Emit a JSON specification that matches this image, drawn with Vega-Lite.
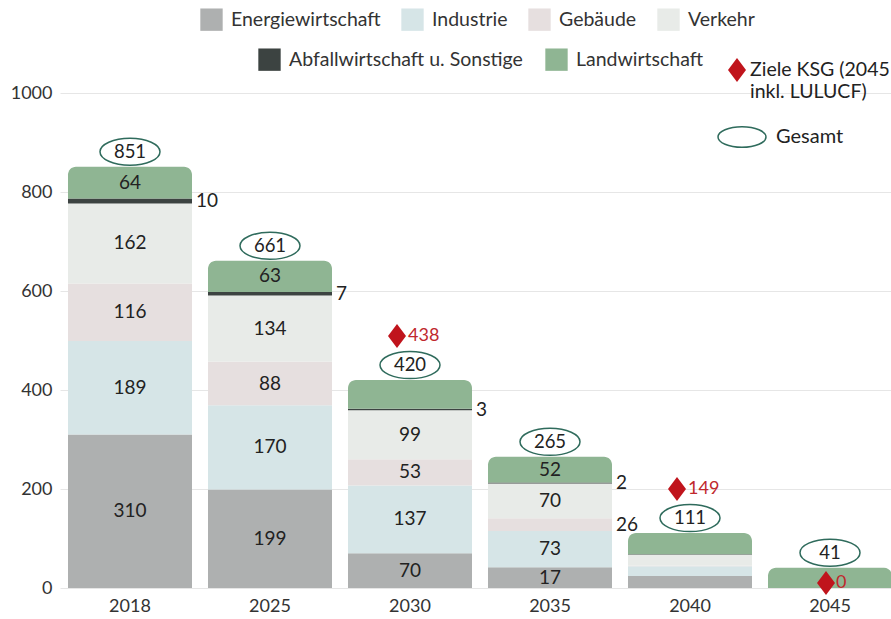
{
  "$schema": "https://vega.github.io/schema/vega-lite/v6.json",
  "width": 831,
  "height": 495,
  "autosize": {"type": "none"},
  "padding": {"left": 60, "top": 93, "right": 0, "bottom": 31},
  "background": "white",
  "config": {"view": {"stroke": null}, "font": "Lato"},
  "datasets": {
    "seg": [
      {"year": "2018", "category": "Energiewirtschaft", "order": 1, "value": 310, "label": "310", "pos": "in"},
      {"year": "2018", "category": "Industrie", "order": 2, "value": 189, "label": "189", "pos": "in"},
      {"year": "2018", "category": "Gebäude", "order": 3, "value": 116, "label": "116", "pos": "in"},
      {"year": "2018", "category": "Verkehr", "order": 4, "value": 162, "label": "162", "pos": "in"},
      {"year": "2018", "category": "Abfallwirtschaft u. Sonstige", "order": 5, "value": 10, "label": "10", "pos": "out"},
      {"year": "2018", "category": "Landwirtschaft", "order": 6, "value": 64, "label": "64", "pos": "in"},
      {"year": "2025", "category": "Energiewirtschaft", "order": 1, "value": 199, "label": "199", "pos": "in"},
      {"year": "2025", "category": "Industrie", "order": 2, "value": 170, "label": "170", "pos": "in"},
      {"year": "2025", "category": "Gebäude", "order": 3, "value": 88, "label": "88", "pos": "in"},
      {"year": "2025", "category": "Verkehr", "order": 4, "value": 134, "label": "134", "pos": "in"},
      {"year": "2025", "category": "Abfallwirtschaft u. Sonstige", "order": 5, "value": 7, "label": "7", "pos": "out"},
      {"year": "2025", "category": "Landwirtschaft", "order": 6, "value": 63, "label": "63", "pos": "in"},
      {"year": "2030", "category": "Energiewirtschaft", "order": 1, "value": 70, "label": "70", "pos": "in"},
      {"year": "2030", "category": "Industrie", "order": 2, "value": 137, "label": "137", "pos": "in"},
      {"year": "2030", "category": "Gebäude", "order": 3, "value": 53, "label": "53", "pos": "in"},
      {"year": "2030", "category": "Verkehr", "order": 4, "value": 99, "label": "99", "pos": "in"},
      {"year": "2030", "category": "Abfallwirtschaft u. Sonstige", "order": 5, "value": 3, "label": "3", "pos": "out"},
      {"year": "2030", "category": "Landwirtschaft", "order": 6, "value": 58, "label": "58", "pos": "none"},
      {"year": "2035", "category": "Energiewirtschaft", "order": 1, "value": 42, "label": "17", "pos": "in"},
      {"year": "2035", "category": "Industrie", "order": 2, "value": 73, "label": "73", "pos": "in"},
      {"year": "2035", "category": "Gebäude", "order": 3, "value": 26, "label": "26", "pos": "out"},
      {"year": "2035", "category": "Verkehr", "order": 4, "value": 70, "label": "70", "pos": "in"},
      {"year": "2035", "category": "Abfallwirtschaft u. Sonstige", "order": 5, "value": 2, "label": "2", "pos": "out"},
      {"year": "2035", "category": "Landwirtschaft", "order": 6, "value": 52, "label": "52", "pos": "in"},
      {"year": "2040", "category": "Energiewirtschaft", "order": 1, "value": 24, "label": "24", "pos": "none"},
      {"year": "2040", "category": "Industrie", "order": 2, "value": 20, "label": "20", "pos": "none"},
      {"year": "2040", "category": "Gebäude", "order": 3, "value": 1, "label": "1", "pos": "none"},
      {"year": "2040", "category": "Verkehr", "order": 4, "value": 22, "label": "22", "pos": "none"},
      {"year": "2040", "category": "Abfallwirtschaft u. Sonstige", "order": 5, "value": 1, "label": "1", "pos": "none"},
      {"year": "2040", "category": "Landwirtschaft", "order": 6, "value": 43, "label": "43", "pos": "none"},
      {"year": "2045", "category": "Landwirtschaft", "order": 6, "value": 41, "label": "41", "pos": "none"}
    ],
    "tot": [
      {"year": "2018", "total": 851, "target": null},
      {"year": "2025", "total": 661, "target": null},
      {"year": "2030", "total": 420, "target": 438},
      {"year": "2035", "total": 265, "target": null},
      {"year": "2040", "total": 111, "target": 149},
      {"year": "2045", "total": 41, "target": 0}
    ]
  },
  "layer": [
    {
      "data": {"name": "seg"},
      "transform": [
        {"stack": "value", "groupby": ["year"], "sort": [{"field": "order", "order": "ascending"}], "as": ["y0", "y1"]},
        {"calculate": "(datum.y0 + datum.y1) / 2", "as": "mid"}
      ],
      "encoding": {
        "x": {
          "field": "year", "type": "nominal",
          "scale": {"range": [0, 840], "paddingInner": 0.1143, "paddingOuter": 0.0571},
          "axis": {"title": null, "domain": false, "ticks": false, "labelAngle": 0, "labelFontSize": 18, "labelColor": "#333", "labelPadding": 9, "labelFont": "Lato"}
        }
      },
      "layer": [
        {
          "transform": [{"filter": "datum.order <= 4"}],
          "mark": {"type": "bar"},
          "encoding": {
            "y": {"field": "y1", "type": "quantitative", "scale": {"domain": [0, 1000]},
              "axis": {"title": null, "values": [0, 200, 400, 600, 800, 1000], "format": "d", "domain": false, "ticks": false, "labelFontSize": 18, "labelColor": "#333", "labelPadding": 8, "gridColor": "#e6e6e6", "labelFont": "Lato"}},
            "y2": {"field": "y0"},
            "color": {
              "field": "category", "type": "nominal",
              "scale": {"domain": ["Energiewirtschaft", "Industrie", "Gebäude", "Verkehr"], "range": ["#aeb0b0", "#d6e5e7", "#e6dfdf", "#e8ebe8"]},
              "legend": {"orient": "none", "legendX": 140, "legendY": -85, "direction": "horizontal", "columns": 4, "title": null, "symbolType": "square", "symbolSize": 500, "symbolStrokeWidth": 0, "labelFontSize": 19.5, "labelFont": "Lato", "labelColor": "#333", "labelOffset": 8, "columnPadding": 20, "labelLimit": 300, "padding": 0}
            }
          }
        },
        {
          "transform": [{"filter": "datum.order == 5"}],
          "mark": {"type": "bar"},
          "encoding": {
            "y": {"field": "y1", "type": "quantitative"},
            "y2": {"field": "y0"},
            "fill": {
              "field": "category", "type": "nominal",
              "scale": {"domain": ["Abfallwirtschaft u. Sonstige", "Landwirtschaft"], "range": ["#3c4341", "#8fb593"]},
              "legend": {"orient": "none", "legendX": 198, "legendY": -45, "direction": "horizontal", "columns": 2, "title": null, "symbolType": "square", "symbolSize": 500, "symbolStrokeWidth": 0, "labelFontSize": 19.5, "labelFont": "Lato", "labelColor": "#333", "labelOffset": 8, "columnPadding": 22, "labelLimit": 300, "padding": 0}
            }
          }
        },
        {
          "transform": [{"filter": "datum.order == 6"}],
          "mark": {"type": "bar", "cornerRadiusTopLeft": 8, "cornerRadiusTopRight": 8},
          "encoding": {
            "y": {"field": "y1", "type": "quantitative"},
            "y2": {"field": "y0"},
            "fill": {"field": "category", "type": "nominal"}
          }
        },
        {
          "transform": [{"filter": "datum.pos == 'in'"}],
          "mark": {"type": "text", "fontSize": 19, "color": "#222", "font": "Lato"},
          "encoding": {
            "y": {"field": "mid", "type": "quantitative"},
            "text": {"field": "label"}
          }
        },
        {
          "transform": [{"filter": "datum.pos == 'out'"}],
          "mark": {"type": "text", "fontSize": 19, "color": "#222", "align": "left", "dx": 4, "font": "Lato"},
          "encoding": {
            "x": {"field": "year", "type": "nominal", "bandPosition": 1},
            "y": {"field": "mid", "type": "quantitative"},
            "text": {"field": "label"}
          }
        }
      ]
    },
    {
      "data": {"name": "tot"},
      "encoding": {"x": {"field": "year", "type": "nominal"}},
      "layer": [
        {
          "mark": {"type": "point", "shape": "M-1,0 A1,0.45 0 1,1 1,0 A1,0.45 0 1,1 -1,0 Z", "size": 3600, "filled": false, "fill": "white", "fillOpacity": 1, "strokeWidth": 1.5, "strokeOpacity": 1, "yOffset": -15},
          "encoding": {
            "y": {"field": "total", "type": "quantitative"},
            "stroke": {
              "datum": "Gesamt", "type": "nominal",
              "scale": {"range": ["#2f6b5c"]},
              "legend": {"orient": "none", "legendX": 657, "legendY": 19, "title": null, "symbolType": "M-1,0 A1,0.43 0 1,1 1,0 A1,0.43 0 1,1 -1,0 Z", "symbolSize": 2304, "symbolFillColor": "white", "symbolStrokeWidth": 1.5, "labelFontSize": 20, "labelFont": "Lato", "labelColor": "#222", "labelOffset": 9, "padding": 0}
            }
          }
        },
        {
          "mark": {"type": "text", "fontSize": 18.5, "color": "#222", "dy": -15, "font": "Lato"},
          "encoding": {
            "y": {"field": "total", "type": "quantitative"},
            "text": {"field": "total", "type": "quantitative"}
          }
        },
        {
          "transform": [{"filter": "datum.target > 0"}],
          "mark": {"type": "point", "filled": true, "size": 576, "color": "#c0141c", "opacity": 1, "strokeWidth": 0, "xOffset": -13, "yOffset": -44},
          "encoding": {
            "y": {"field": "total", "type": "quantitative"},
            "shape": {
              "datum": "Ziele KSG (2045|inkl. LULUCF)", "type": "nominal",
              "scale": {"range": ["M0,-1 L0.75,0 L0,1 L-0.75,0 Z"]},
              "legend": {"orient": "none", "legendX": 665, "legendY": -35, "title": null, "symbolSize": 576, "symbolFillColor": "#c0141c", "symbolStrokeWidth": 0, "labelFontSize": 19.5, "labelFont": "Lato", "labelColor": "#222", "labelOffset": 1, "labelLimit": 400, "padding": 0,
                "labelExpr": "split(datum.label, '|')",
                "encode": {"labels": {"enter": {"lineHeight": {"value": 26}}, "update": {"dy": {"value": 13}, "lineHeight": {"value": 26}}}}}
            }
          }
        },
        {
          "transform": [{"filter": "datum.target === 0"}],
          "mark": {"type": "point", "filled": true, "size": 576, "color": "#c0141c", "opacity": 1, "strokeWidth": 0, "xOffset": -4, "yOffset": -5},
          "encoding": {
            "y": {"field": "target", "type": "quantitative"},
            "shape": {"datum": "Ziele KSG (2045|inkl. LULUCF)", "type": "nominal"}
          }
        },
        {
          "transform": [{"filter": "datum.target > 0"}],
          "mark": {"type": "text", "fontSize": 18, "color": "#c0282d", "align": "left", "dx": -2, "dy": -44, "font": "Lato"},
          "encoding": {
            "y": {"field": "total", "type": "quantitative"},
            "text": {"field": "target", "type": "quantitative"}
          }
        },
        {
          "transform": [{"filter": "datum.target === 0"}],
          "mark": {"type": "text", "fontSize": 18, "color": "#c0282d", "align": "left", "dx": 6, "dy": -5, "font": "Lato"},
          "encoding": {
            "y": {"field": "target", "type": "quantitative"},
            "text": {"field": "target", "type": "quantitative"}
          }
        }
      ]
    }
  ]
}
